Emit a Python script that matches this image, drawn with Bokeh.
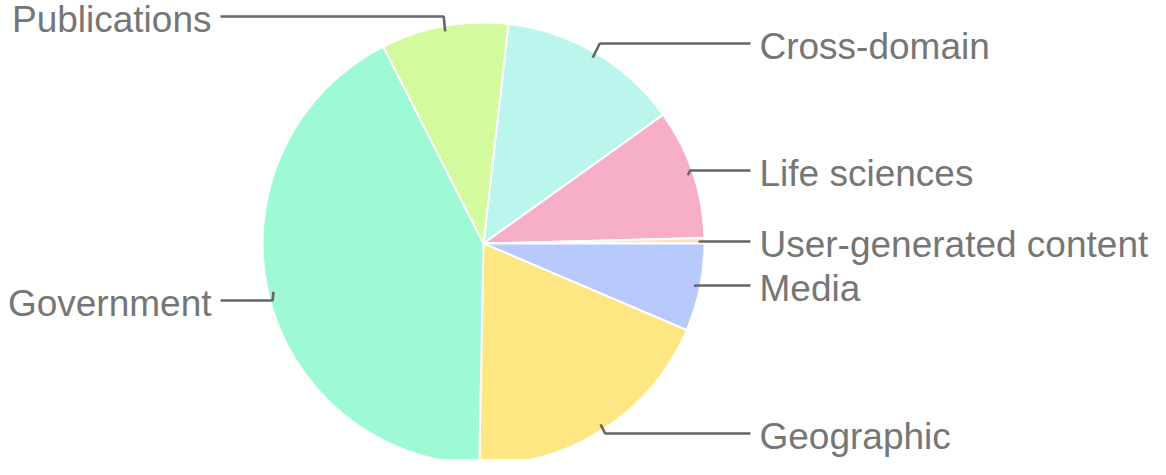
import math
from bokeh.plotting import figure
from bokeh.models import Range1d, ColumnDataSource
from bokeh.core.properties import value
from bokeh.embed import file_html
from bokeh.resources import INLINE

# ---- data ----
categories = ["Cross-domain", "Life sciences", "User-generated content", "Media",
              "Geographic", "Government", "Publications"]
values = [13.3, 9.5, 0.4, 6.4, 18.9, 42.2, 9.3]

# ---- styles / layout ----
colors = ["#baf6ee", "#f7aec8", "#fde2c4", "#b7cafb", "#fee783", "#9dfad4", "#d3fa9c"]
label_y = [55, 182, 253, 297, 445, 312, 28]      # label row (page px, downwards)
START_DEG = 6.5                                  # clockwise from 12 o'clock
CX, CY, R = 491.0, 255.0, 221.0                  # pie centre/radius (page px)
RIGHT_LINE_END, RIGHT_TEXT_X = 758, 767
LEFT_LINE_END, LEFT_TEXT_X = 228, 219
TEXT_DY = 2.5

total = float(sum(values))
starts, ends, mids = [], [], []
acc = START_DEG
for v in values:
    a0 = acc
    a1 = acc + v / total * 360.0
    starts.append(math.pi / 2 - math.radians(a0))
    ends.append(math.pi / 2 - math.radians(a1))
    mids.append((a0 + a1) / 2.0)
    acc = a1

p = figure(width=1150, height=459, x_range=Range1d(8, 1158), y_range=Range1d(-471, -12),
           output_backend="svg", toolbar_location=None, min_border=0,
           x_axis_location=None, y_axis_location=None)
p.grid.visible = False
p.outline_line_color = None
p.background_fill_color = "white"
p.border_fill_color = "white"

src = ColumnDataSource(dict(start=starts, end=ends, color=colors, cat=categories))
p.wedge(x=CX, y=-CY, radius=R, start_angle="start", end_angle="end", direction="clock",
        fill_color="color", line_color="white", line_width=2, source=src)

xs, ys = [], []
tx_r, ty_r, tt_r = [], [], []
tx_l, ty_l, tt_l = [], [], []
for cat, m, ly in zip(categories, mids, label_y):
    a = math.radians(m)
    ax = CX + 0.975 * R * math.sin(a)
    ay = CY - 0.975 * R * math.cos(a)
    right = math.sin(a) >= 0
    dx = abs(ly - ay) * 0.5
    if right:
        kx = ax + dx
        xs.append([ax, kx, RIGHT_LINE_END])
        tx_r.append(RIGHT_TEXT_X); ty_r.append(-(ly + TEXT_DY)); tt_r.append(cat)
    else:
        kx = ax - dx * 0.2
        xs.append([ax, kx, LEFT_LINE_END])
        tx_l.append(LEFT_TEXT_X); ty_l.append(-(ly + TEXT_DY)); tt_l.append(cat)
    ys.append([-ay, -ly, -ly])

p.multi_line(xs=xs, ys=ys, line_color="#666666", line_width=2.6)

p.text(x=tx_r, y=ty_r, text=tt_r, text_font=value("Liberation Sans"), text_font_size="37px",
       text_color="#767676", text_align="left", text_baseline="middle")
p.text(x=tx_l, y=ty_l, text=tt_l, text_font=value("Liberation Sans"), text_font_size="37px",
       text_color="#767676", text_align="right", text_baseline="middle")

open("out.html", "w").write(file_html(p, INLINE))
